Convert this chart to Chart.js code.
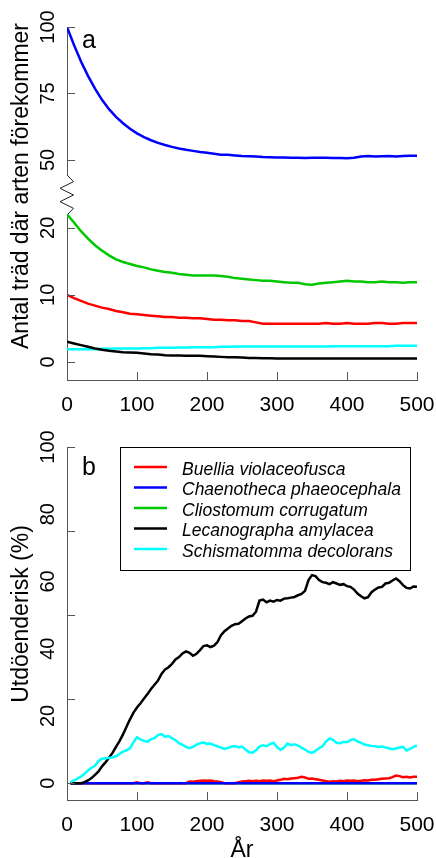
<!DOCTYPE html>
<html>
<head>
<meta charset="utf-8">
<script src="https://cdn.jsdelivr.net/npm/chart.js@4.4.1/dist/chart.umd.min.js"></script>
<style>
  body { margin: 0; background: #fff; }
  canvas { display: block; }
</style>
</head>
<body>
<canvas id="panelA" width="436" height="425"></canvas>
<canvas id="panelB" width="436" height="433"></canvas>
<script>
// ---- values ----

// panel a: number of trees where the species occurs (every 10 years)
const yearsA = [0, 10, 20, 30, 40, 50, 60, 70, 80, 90,
  100, 110, 120, 130, 140, 150, 160, 170, 180, 190,
  200, 210, 220, 230, 240, 250, 260, 270, 280, 290,
  300, 310, 320, 330, 340, 350, 360, 370, 380, 390,
  400, 410, 420, 430, 440, 450, 460, 470, 480, 490, 500];
const buelliaTrees = [10.0, 9.5, 9.1, 8.7, 8.4, 8.1, 7.9, 7.6, 7.4, 7.2,
  7.1, 7.0, 6.9, 6.8, 6.7, 6.7, 6.6, 6.6, 6.5, 6.5,
  6.4, 6.3, 6.3, 6.2, 6.2, 6.1, 6.1, 5.9, 5.7, 5.7,
  5.7, 5.7, 5.7, 5.7, 5.7, 5.7, 5.7, 5.8, 5.7, 5.7,
  5.8, 5.7, 5.7, 5.7, 5.8, 5.8, 5.7, 5.7, 5.8, 5.8, 5.8];
const chaenothecaTrees = [100, 93.2, 87.0, 81.6, 76.8, 72.6, 69.1, 66.2, 63.8, 61.7,
  60.0, 58.6, 57.4, 56.4, 55.6, 54.9, 54.3, 53.8, 53.4, 53.0,
  52.7, 52.3, 51.9, 51.9, 51.7, 51.5, 51.4, 51.3, 51.1, 51.0,
  50.9, 50.9, 50.8, 50.8, 50.7, 50.8, 50.8, 50.8, 50.7, 50.7,
  50.6, 50.8, 51.3, 51.5, 51.3, 51.4, 51.5, 51.3, 51.5, 51.6, 51.6];
const cliostomumTrees = [22.0, 20.8, 19.5, 18.4, 17.4, 16.6, 15.9, 15.3, 14.9, 14.6,
  14.3, 14.1, 13.8, 13.6, 13.4, 13.3, 13.1, 13.0, 12.9, 12.9,
  12.9, 12.9, 12.8, 12.7, 12.5, 12.4, 12.3, 12.2, 12.1, 12.1,
  12.0, 11.9, 11.8, 11.8, 11.6, 11.5, 11.7, 11.8, 11.9, 12.0,
  12.1, 12.0, 12.0, 11.9, 11.9, 12.0, 11.9, 11.9, 11.8, 11.9, 11.9];
const lecanographaTrees = [3.0, 2.75, 2.5, 2.25, 2.0, 1.8, 1.65, 1.55, 1.45, 1.4,
  1.35, 1.25, 1.15, 1.1, 1.0, 0.95, 0.95, 0.9, 0.9, 0.9,
  0.85, 0.8, 0.75, 0.7, 0.7, 0.65, 0.6, 0.6, 0.55, 0.55,
  0.5, 0.5, 0.5, 0.5, 0.5, 0.5, 0.5, 0.5, 0.5, 0.5,
  0.5, 0.5, 0.5, 0.5, 0.5, 0.5, 0.5, 0.5, 0.5, 0.5, 0.5];
const schismatommaTrees = [1.9, 1.9, 1.9, 1.9, 1.9, 1.95, 1.95, 2.0, 2.0, 2.0,
  2.0, 2.05, 2.05, 2.1, 2.1, 2.1, 2.15, 2.15, 2.2, 2.2,
  2.2, 2.2, 2.25, 2.25, 2.3, 2.3, 2.3, 2.3, 2.3, 2.3,
  2.3, 2.3, 2.3, 2.3, 2.3, 2.3, 2.3, 2.3, 2.35, 2.35,
  2.35, 2.35, 2.35, 2.35, 2.35, 2.35, 2.35, 2.4, 2.4, 2.4, 2.4];

// panel b: extinction risk in % (every 5 years)
const yearsB = [5, 10, 15, 20, 25, 30, 35, 40, 45, 50,
  55, 60, 65, 70, 75, 80, 85, 90, 95, 100,
  105, 110, 115, 120, 125, 130, 135, 140, 145, 150,
  155, 160, 165, 170, 175, 180, 185, 190, 195, 200,
  205, 210, 215, 220, 225, 230, 235, 240, 245, 250,
  255, 260, 265, 270, 275, 280, 285, 290, 295, 300,
  305, 310, 315, 320, 325, 330, 335, 340, 345, 350,
  355, 360, 365, 370, 375, 380, 385, 390, 395, 400,
  405, 410, 415, 420, 425, 430, 435, 440, 445, 450,
  455, 460, 465, 470, 475, 480, 485, 490, 495, 500];
const buelliaRisk = [0, 0, 0, 0, 0, 0, 0, 0, 0, 0,
  0, 0, 0, 0, 0, 0, 0, 0, 0, 0.3,
  0, 0, 0.3, 0, 0, 0, 0, 0, 0, 0,
  0, 0, 0, 0, 0.5, 0.4, 0.6, 0.7, 0.8, 0.7,
  0.8, 0.6, 0.5, 0.3, 0, 0, 0, 0, 0.3, 0.5,
  0.6, 0.7, 0.6, 0.7, 0.6, 0.8, 0.7, 0.8, 0.6, 0.8,
  1.0, 1.3, 1.2, 1.4, 1.5, 1.6, 1.9, 1.7, 1.3, 1.4,
  1.2, 1.0, 0.8, 0.6, 0.4, 0.6, 0.5, 0.7, 0.6, 0.8,
  0.7, 0.8, 0.6, 0.7, 0.9, 0.8, 1.0, 1.0, 1.2, 1.3,
  1.4, 1.5, 1.8, 2.3, 2.1, 1.8, 1.9, 1.7, 1.9, 1.9];
const lecanographaRisk = [0, 0, 0, 0, 0.3, 0.8, 1.5, 2.5, 3.5, 5.0,
  6.2, 7.6, 9.0, 10.8, 12.5, 14.5, 16.8, 19.0, 21.0, 22.5,
  23.8, 25.2, 26.5, 28.0, 29.3, 30.5, 32.5, 33.8, 34.5, 35.5,
  36.8, 37.5, 38.6, 39.2, 38.8, 37.9, 38.5, 39.6, 40.8, 41.0,
  40.5, 40.9, 42.0, 44.0, 45.2, 46.0, 46.8, 47.3, 47.4, 48.2,
  49.0, 49.6, 49.8, 51.0, 54.3, 54.6, 53.8, 54.3, 54.0, 54.5,
  54.3, 54.9, 55.0, 55.2, 55.4, 55.9, 56.3, 57.2, 60.4, 61.9,
  61.6, 60.4, 59.8, 59.6, 59.2, 59.8, 59.4, 59.0, 59.2, 58.6,
  58.4, 57.6, 56.4, 55.6, 55.0, 55.3, 56.8, 57.6, 58.2, 58.4,
  59.4, 59.6, 60.3, 60.9, 60.1, 58.9, 58.1, 57.9, 58.5, 58.4];
const schismatommaRisk = [0.3, 0.8, 1.4, 2.0, 2.8, 3.8, 4.6, 5.2, 6.6, 7.3,
  7.4, 7.5, 7.7, 8.0, 8.7, 9.4, 9.8, 10.4, 12.2, 13.7,
  13.0, 12.6, 12.3, 13.1, 13.4, 14.3, 14.6, 13.8, 14.0, 13.4,
  12.8, 11.9, 11.4, 10.8, 10.4, 10.8, 11.5, 11.9, 12.1, 11.7,
  11.8, 11.3, 11.0, 10.6, 10.2, 10.5, 10.9, 11.0, 10.7, 10.9,
  10.0, 9.2, 9.1, 9.8, 10.9, 11.3, 11.0, 11.6, 12.0, 10.8,
  9.9, 10.6, 11.8, 11.3, 11.6, 11.2, 10.6, 10.0, 9.3, 9.0,
  9.6, 10.4, 11.0, 12.4, 13.3, 12.9, 12.0, 11.9, 12.3, 12.2,
  12.8, 13.1, 12.4, 12.0, 11.5, 11.3, 11.1, 11.0, 10.8, 10.9,
  10.6, 10.4, 10.1, 10.3, 10.6, 10.8, 9.7, 10.2, 10.8, 11.2];
// these two stay at zero the whole time
const yearsFlat = [5, 500];
const chaenothecaRisk = [0, 0];
const cliostomumRisk = [0, 0];

const speciesNames = ['Buellia violaceofusca', 'Chaenotheca phaeocephala',
  'Cliostomum corrugatum', 'Lecanographa amylacea', 'Schismatomma decolorans'];
const speciesColors = ['#ff0000', '#0000ff', '#00c800', '#000000', '#00ffff'];

// axis ticks
const yearTicks = [0, 100, 200, 300, 400, 500];
const lowTicksA = [0, 10, 20];
const highTicksA = [50, 75, 100];
const riskLabels = [0, 20, 40, 60, 80, 100];
const riskMarks = [0, 25, 50, 75, 100];

const FONT = '"Liberation Sans", Arial, Helvetica, sans-serif';
const AXIS = '#555';

function pts(xs, ys) {
  return xs.map((x, i) => ({ x: x, y: ys[i] }));
}

// R-like decorations: inward ticks, rotated y labels, y title, panel letter,
// axis break, boxed legend
const rStyle = {
  id: 'rStyle',
  beforeDatasetsDraw(chart, args, o) {
    if (!o.axisBreak) return;
    const ctx = chart.ctx;
    const x = chart.chartArea.left;
    const yb = chart.scales.yHigh.bottom;
    const y0 = yb - 20, y1 = yb + 20;
    ctx.save();
    // 1) wipe the axis line where the break goes
    ctx.fillStyle = '#fff';
    ctx.fillRect(x - 6, y0, 12, y1 - y0);
    // 2) zigzag
    const dx = [0, 6.5, -7, 6.5, -7, 6.5, 0];
    ctx.beginPath();
    dx.forEach((d, i) => {
      const yy = y0 + (y1 - y0) * i / (dx.length - 1);
      if (i === 0) ctx.moveTo(x + d, yy); else ctx.lineTo(x + d, yy);
    });
    ctx.strokeStyle = '#222';
    ctx.lineWidth = 1;
    ctx.stroke();
    ctx.restore();
  },
  afterDraw(chart, args, o) {
    const ctx = chart.ctx;
    const { left, top, bottom } = chart.chartArea;
    ctx.save();

    // 1) tick marks pointing into the plot
    ctx.strokeStyle = AXIS;
    ctx.lineWidth = 1;
    Object.entries(o.marks).forEach(([id, values]) => {
      const s = chart.scales[id];
      values.forEach(v => {
        const p = Math.round(s.getPixelForValue(v)) + 0.5;
        ctx.beginPath();
        if (s.isHorizontal()) { ctx.moveTo(p, bottom); ctx.lineTo(p, bottom - 8); }
        else { ctx.moveTo(left, p); ctx.lineTo(left + 8, p); }
        ctx.stroke();
      });
    });

    // 2) y labels, turned like R does it
    ctx.fillStyle = '#000';
    ctx.font = '20px ' + FONT;
    ctx.textAlign = 'center';
    ctx.textBaseline = 'alphabetic';
    Object.entries(o.labels).forEach(([id, values]) => {
      const s = chart.scales[id];
      values.forEach(v => {
        ctx.save();
        ctx.translate(left - 13, s.getPixelForValue(v));
        ctx.rotate(-Math.PI / 2);
        ctx.fillText(String(v), 0, 0);
        ctx.restore();
      });
    });

    // 3) y title
    ctx.save();
    ctx.font = '23px ' + FONT;
    ctx.translate(28, o.titleY);
    ctx.rotate(-Math.PI / 2);
    ctx.fillText(o.title, 0, 0);
    ctx.restore();

    // 4) panel letter
    ctx.font = '25px ' + FONT;
    ctx.textAlign = 'left';
    ctx.fillText(o.panel, left + 15, top + o.panelDy);

    // 5) legend box
    if (o.legend) {
      const bx = left + 53, by = top, bw = 290, bh = 123;
      ctx.strokeStyle = '#000';
      ctx.strokeRect(bx + 0.5, by + 0.5, bw, bh);
      ctx.font = 'italic 17.5px ' + FONT;
      speciesNames.forEach((name, i) => {
        const ry = by + 20 + i * 20.5;
        ctx.beginPath();
        ctx.moveTo(bx + 14, ry);
        ctx.lineTo(bx + 47, ry);
        ctx.strokeStyle = speciesColors[i];
        ctx.lineWidth = 2.5;
        ctx.stroke();
        ctx.fillStyle = '#000';
        ctx.fillText(name, bx + 62, ry + 7.5);
      });
    }
    ctx.restore();
  }
};

function yearAxis(h, title) {
  return {
    type: 'linear',
    min: 0,
    max: 500,
    afterBuildTicks: s => { s.ticks = yearTicks.map(v => ({ value: v })); },
    ticks: { color: '#000', font: { family: FONT, size: 21 }, padding: 13, maxRotation: 0, autoSkip: false },
    grid: { display: false, drawTicks: false },
    border: { color: AXIS, width: 1 },
    title: title ? { display: true, text: title, color: '#000', font: { family: FONT, size: 23 }, padding: { top: 0, bottom: -6 } } : { display: false },
    afterFit: s => {
      s.height = h;
      // labels may hang over the plot edges, the layout padding covers them
      s.paddingLeft = 0;
      s.paddingRight = 0;
    }
  };
}

function valueAxis(extra) {
  return Object.assign({
    type: 'linear',
    position: 'left',
    ticks: { display: false },
    grid: { display: false, drawTicks: false },
    border: { color: AXIS, width: 1 },
    afterFit: s => { s.width = 67; }
  }, extra);
}

const baseOptions = {
  responsive: false,
  animation: false,
  elements: { point: { radius: 0 }, line: { borderWidth: 2.5, tension: 0 } }
};

// ---- panel a ----
new Chart(document.getElementById('panelA'), {
  type: 'line',
  data: {
    datasets: [
      { label: speciesNames[0], data: pts(yearsA, buelliaTrees), borderColor: speciesColors[0], yAxisID: 'y' },
      { label: speciesNames[1], data: pts(yearsA, chaenothecaTrees), borderColor: speciesColors[1], yAxisID: 'yHigh' },
      { label: speciesNames[2], data: pts(yearsA, cliostomumTrees), borderColor: speciesColors[2], yAxisID: 'y' },
      { label: speciesNames[3], data: pts(yearsA, lecanographaTrees), borderColor: speciesColors[3], yAxisID: 'y' },
      { label: speciesNames[4], data: pts(yearsA, schismatommaTrees), borderColor: speciesColors[4], yAxisID: 'y' }
    ]
  },
  options: Object.assign({}, baseOptions, {
    layout: { padding: { top: 27, right: 19, left: 0, bottom: 0 } },
    plugins: {
      legend: { display: false },
      tooltip: { enabled: false },
      rStyle: {
        marks: { x: yearTicks, y: lowTicksA, yHigh: highTicksA },
        labels: { y: lowTicksA, yHigh: highTicksA },
        title: 'Antal träd där arten förekommer',
        titleY: 186,
        panel: 'a',
        panelDy: 21,
        axisBreak: true
      }
    },
    scales: {
      x: yearAxis(45),
      y: valueAxis({ stack: 'a', stackWeight: 185, min: -2.7, max: 24.9 }),
      yHigh: valueAxis({ stack: 'a', stackWeight: 168, min: 36.8, max: 100 })
    }
  }),
  plugins: [rStyle]
});

// ---- panel b ----
new Chart(document.getElementById('panelB'), {
  type: 'line',
  data: {
    datasets: [
      { label: speciesNames[0], data: pts(yearsB, buelliaRisk), borderColor: speciesColors[0], order: 3 },
      { label: speciesNames[1], data: pts(yearsFlat, chaenothecaRisk), borderColor: speciesColors[1], order: 2 },
      { label: speciesNames[2], data: pts(yearsFlat, cliostomumRisk), borderColor: speciesColors[2], order: 4 },
      { label: speciesNames[3], data: pts(yearsB, lecanographaRisk), borderColor: speciesColors[3], order: 1 },
      { label: speciesNames[4], data: pts(yearsB, schismatommaRisk), borderColor: speciesColors[4], order: 0 }
    ]
  },
  options: Object.assign({}, baseOptions, {
    layout: { padding: { top: 22, right: 19, left: 0, bottom: 0 } },
    plugins: {
      legend: { display: false },
      tooltip: { enabled: false },
      rStyle: {
        marks: { x: yearTicks, y: riskMarks },
        labels: { y: riskLabels },
        title: 'Utdöenderisk (%)',
        titleY: 189,
        panel: 'b',
        panelDy: 28,
        legend: true
      }
    },
    scales: {
      x: yearAxis(58, 'År'),
      y: valueAxis({ min: -5, max: 100 })
    }
  }),
  plugins: [rStyle]
});
</script>
</body>
</html>
